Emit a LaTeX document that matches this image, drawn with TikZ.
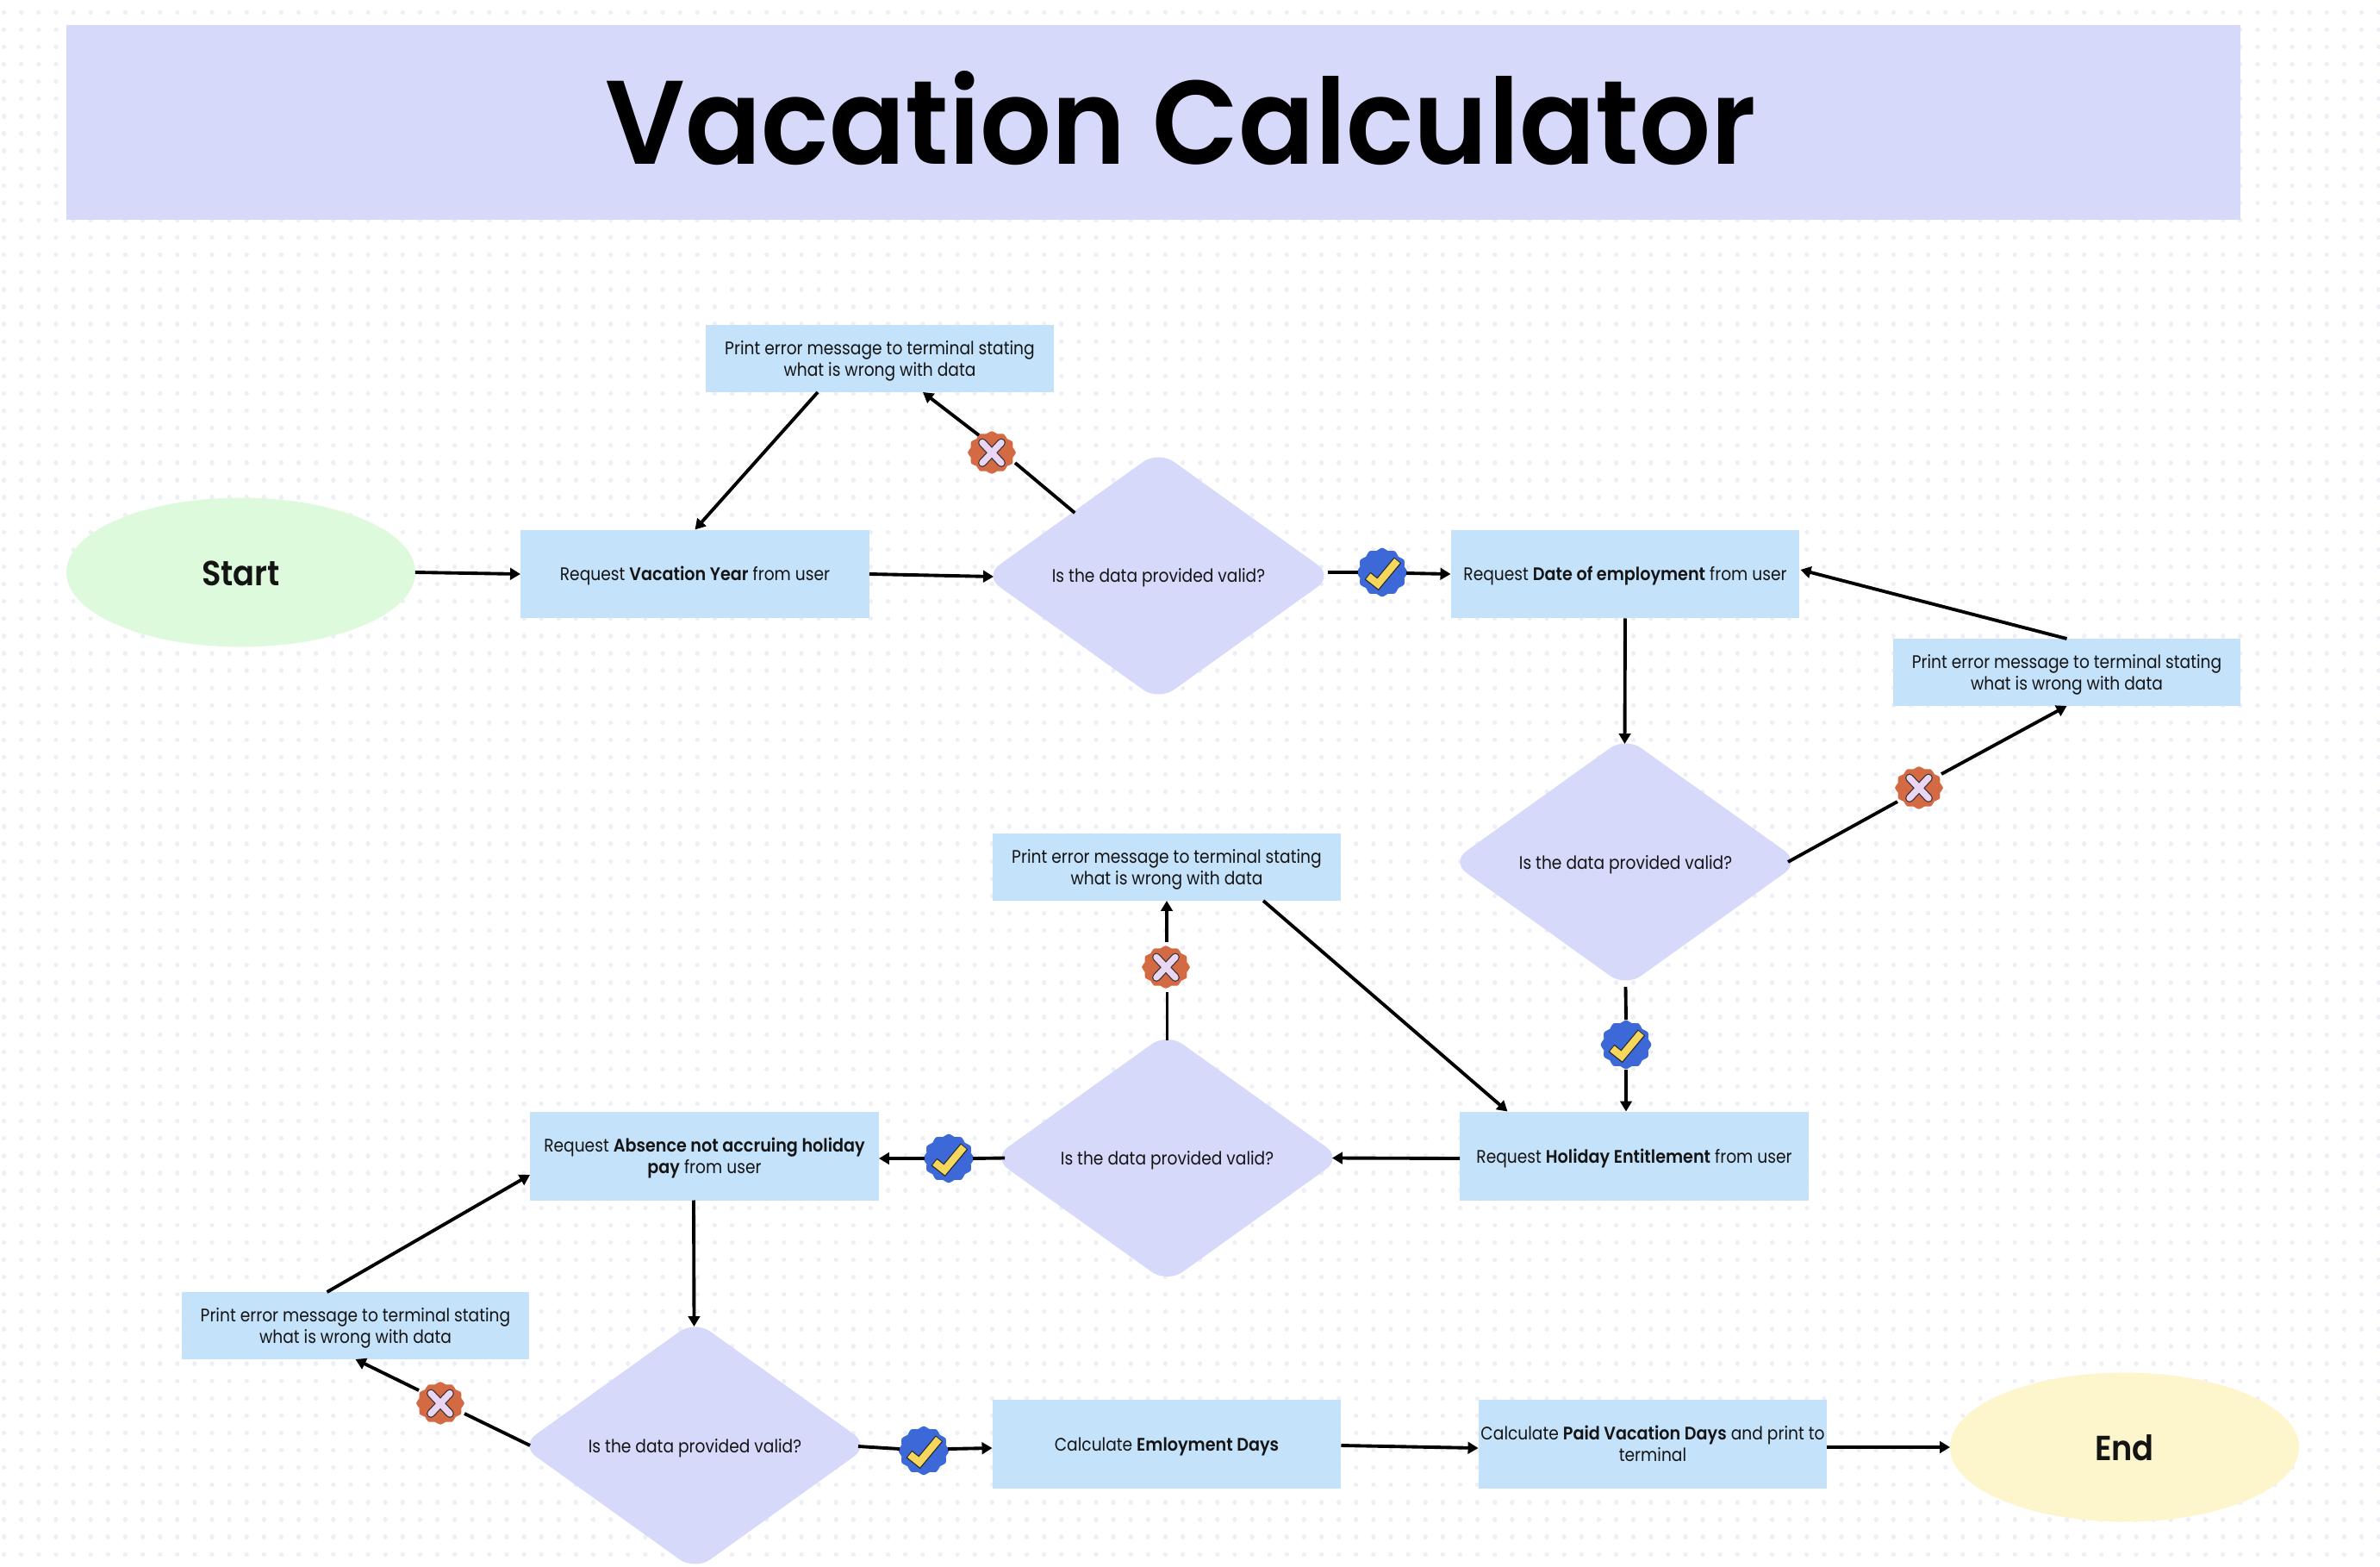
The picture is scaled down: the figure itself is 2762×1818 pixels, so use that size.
\documentclass[tikz,border=0pt]{standalone}
\usepackage{fontspec}
\setmainfont{Poppins}[FakeStretch=0.885,BoldFont={Poppins SemiBold},BoldFeatures={FakeStretch=0.91}]
\newfontfamily\titlefont{Poppins SemiBold}[FakeStretch=0.945]
\usetikzlibrary{arrows.meta,shapes.geometric,calc}
\definecolor{dotc}{HTML}{EEEFF4}
\definecolor{lav}{HTML}{D7D9FA}
\definecolor{boxc}{HTML}{C5E2FB}
\definecolor{startc}{HTML}{DDFBDC}
\definecolor{endc}{HTML}{FDF5CB}
\definecolor{orangec}{HTML}{D46A43}
\definecolor{bluec}{HTML}{3D68D8}
\definecolor{yellowc}{HTML}{F5D75E}
\definecolor{pinkc}{HTML}{EAD5F2}
\tikzset{
  every node/.style={inner sep=0pt,outer sep=0pt,font=\fontsize{12}{13.8}\selectfont,text=black!92,align=center},
  oneline/.style={text height=12pt,text depth=2.9pt},
  twoline/.style={text height=25pt,text depth=2.2pt},
  procbox/.style={rectangle,fill=boxc,minimum width=8.1cm,minimum height=2.06cm},
  errbox/.style={rectangle,fill=boxc,minimum width=8.08cm,minimum height=1.56cm,twoline},
  decide/.style={diamond,fill=lav,minimum width=8.1cm,minimum height=5.8cm,rounded corners=0.44cm,oneline},
  oval/.style={ellipse,minimum width=8.1cm,minimum height=3.46cm,font=\fontsize{23}{27}\selectfont\bfseries},
  link/.style={draw=black,line width=2.2pt,-{Triangle[length=0.24cm,width=0.27cm]}},
  plain/.style={draw=black,line width=2.2pt},
  badgenode/.style={circle,minimum size=1.04cm},
}
\newcommand{\wavy}[3]{\fill[#1] plot[smooth cycle,samples=48,domain=0:352.5,variable=\t] ({#2*(1+0.05*cos(12*\t))*cos(\t)},{#3*(1+0.05*cos(12*\t))*sin(\t)});}
\newcommand{\nobadge}[2]{%
  \node[badgenode] (#1) at (#2) {};
  \begin{scope}[shift={(#2)}]
    \wavy{orangec}{26.5}{23.5}
    \draw[black!80,line width=5.6pt,line cap=round] (-11,-11.5) -- (11,12) (-11,12) -- (11,-11.5);
    \draw[pinkc,line width=4.2pt,line cap=round] (-11,-11.5) -- (11,12) (-11,12) -- (11,-11.5);
  \end{scope}}
\newcommand{\yesbadge}[2]{%
  \node[badgenode] (#1) at (#2) {};
  \begin{scope}[shift={(#2)}]
    \wavy{bluec}{28}{27}
    \draw[black!85,line width=6.2pt,miter limit=6] (-17,4) -- (-5,13.5) -- (18,-14);
    \draw[yellowc,line width=4.8pt,miter limit=6] (-16.2,4.6) -- (-5,13.5) -- (17.4,-13.4);
  \end{scope}}
\begin{document}
\begin{tikzpicture}[x=0.02cm,y=-0.02cm]
\useasboundingbox (0,0) rectangle (2762,1818);
\fill[white] (0,0) rectangle (2762,1818);
% dotted background
\foreach \k in {0,...,89}{
  \draw[dotc,line width=3pt,line cap=round,dash pattern=on 0.01pt off 11.44pt] (4.6,{14.3+20.1*\k}) -- (2762,{14.3+20.1*\k});
}
\node[rectangle,fill=lav,minimum width=50.46cm,minimum height=4.52cm,font=\titlefont\fontsize{78.5}{84}\selectfont,text=black,text height=70pt,text depth=14.6pt] (title) at (1338.5,142) {\hspace*{36.4pt}Vacation Calculator};

\node[oval,fill=startc,text height=21pt,text depth=3pt] (start) at (279.5,664) {Start};
\node[procbox,oneline] (vac) at (806.5,666) {Request \textbf{Vacation Year} from user};
\node[decide] (d1) at (1344.5,668) {Is the data provided valid?};
\node[errbox] (err1) at (1021,416) {Print error message to terminal stating\\what is wrong with data};
\node[procbox,oneline] (date) at (1886,666) {Request \textbf{Date of employment} from user};
\node[errbox] (err2) at (2398.5,780) {Print error message to terminal stating\\what is wrong with data};
\node[decide] (d2) at (1886.5,1000) {Is the data provided valid?};
\node[procbox,oneline] (hol) at (1896.5,1341) {Request \textbf{Holiday Entitlement} from user};
\node[errbox] (err3) at (1354,1006) {Print error message to terminal stating\\what is wrong with data};
\node[decide] (d3) at (1354.5,1343.5) {Is the data provided valid?};
\node[procbox,twoline] (abs) at (817.5,1341) {Request \textbf{Absence not accruing holiday}\\\textbf{pay} from user};
\node[errbox] (err4) at (412.5,1538) {Print error message to terminal stating\\what is wrong with data};
\node[decide] (d4) at (806.5,1677) {Is the data provided valid?};
\node[procbox,oneline] (emp) at (1354,1675) {Calculate \textbf{Emloyment Days}};
\node[procbox,twoline] (paid) at (1918,1675) {Calculate \textbf{Paid Vacation Days} and print to\\terminal};
\node[oval,fill=endc,text height=21pt,text depth=3pt] (end) at (2465.5,1679) {End};

\nobadge{x1}{1151,525}
\yesbadge{c1}{1604,664}
\nobadge{x2}{2227,914}
\yesbadge{c2}{1887,1212}
\nobadge{x3}{1353,1122}
\yesbadge{c3}{1101,1344}
\nobadge{x4}{511,1628}
\yesbadge{c4}{1072,1683}

\draw[link] (start.east) -- (vac.west);
\draw[link] (vac.east) -- ($(d1.west)+(11,1)$);
\draw[plain] ($(d1.north west)+(4,-0.5)$) -- ($(x1.center)+(27,12)$);
\draw[link] ($(x1.center)+(-15,-20)$) -- ($(err1.south)+(50,0)$);
\draw[link] ($(err1.south)+(-72,0)$) -- (vac.north);
\draw[plain] ($(d1.east)+(-6,-4)$) -- ($(c1.west)+(-2,0)$);
\draw[link] ($(c1.east)+(2,1)$) -- ($(date.west)+(0,0)$);
\draw[link] (date.south) -- ($(d2.north)+(-1,8)$);
\draw[plain] ($(d2.east)+(-14,0)$) -- ($(x2.center)+(-25,16)$);
\draw[link] ($(x2.center)+(26,-16)$) -- (err2.south);
\draw[link] (err2.north) -- ($(date.east)+(1,-5)$);
\draw[plain] ($(d2.south)+(0,0)$) -- ($(c2.north)+(0,-3)$);
\draw[link] ($(c2.south)+(0,3)$) -- ($(hol.north)+(-9.5,0)$);
\draw[link] ($(hol.west)+(0,3)$) -- ($(d3.east)+(-11,0)$);
\draw[plain] ($(d3.north)+(0,8)$) -- ($(x3.south)+(1.5,3)$);
\draw[link] ($(x3.north)+(1,-3)$) -- ($(err3.south)+(0,0)$);
\draw[link] ($(err3.south)+(112,0)$) -- ($(hol.north)+(-147,0)$);
\draw[plain] ($(d3.west)+(14,0)$) -- ($(c3.east)+(2,0)$);
\draw[link] ($(c3.west)+(-2,0)$) -- ($(abs.east)+(0,3)$);
\draw[link] ($(abs.south)+(-12.5,0)$) -- ($(d4.north)+(-1,7)$);
\draw[plain] ($(d4.west)+(11,0)$) -- ($(x4.center)+(28,12)$);
\draw[link] ($(x4.center)+(-25,-15)$) -- ($(err4.south)+(0,0)$);
\draw[link] ($(err4.north)+(-33,0)$) -- ($(abs.west)+(0,22)$);
\draw[plain] ($(d4.east)+(-13,1)$) -- ($(c4.west)+(-2,-2)$);
\draw[link] ($(c4.east)+(2,-2)$) -- ($(emp.west)+(0,5)$);
\draw[link] ($(emp.east)+(0,2)$) -- ($(paid.west)+(0,5)$);
\draw[link] ($(paid.east)+(0,4)$) -- ($(end.west)+(0,0)$);
\end{tikzpicture}
\end{document}
